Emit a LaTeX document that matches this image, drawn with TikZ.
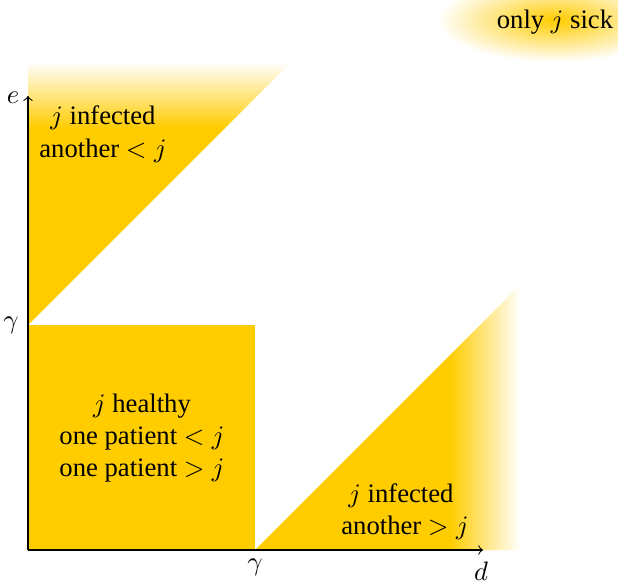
\documentclass[tikz,border=0pt]{standalone}
\usepackage{fontspec}
\setmainfont{Liberation Serif}
\definecolor{yc}{RGB}{255,204,0}
\tikzset{lbl/.style={inner sep=0pt, align=center, font=\normalsize},
  axis/.style={-to, line width=0.4pt, black}}
\begin{document}
\begin{tikzpicture}[x=0.375pt,y=-0.375pt]
\useasboundingbox (0,0) rectangle (618,586);
% only j sick ellipse
\shade[inner color=yc, outer color=white] (555,20) ellipse (118 and 42);
% top-left triangle with fade
\begin{scope}
\clip (28,325) -- (28,62) -- (291,62) -- cycle;
\fill[yc] (28,128) rectangle (291,325);
\shade[top color=white, bottom color=yc] (28,62) rectangle (291,128);
\end{scope}
% square
\fill[yc] (28,325) rectangle (255,550);
% bottom-right triangle with fade
\begin{scope}
\clip (255,550) -- (520,285) -- (520,550) -- cycle;
\fill[yc] (255,285) rectangle (450,550);
\shade[left color=yc, right color=white] (450,285) rectangle (520,550);
\end{scope}
% axes
\coordinate (O) at (28,550);
\coordinate (E) at (28,96);
\coordinate (D) at (483,550);
\draw[axis] (O) -- (E);
\draw[axis] (O) -- (D);
\node[lbl] (el) at (13,98) {$e$};
\node[lbl] (dl) at (481,571) {$d$};
\node[lbl] (g1) at (11,325) {$\gamma$};
\node[lbl] (g2) at (255,567) {$\gamma$};
% texts
\node[lbl] (t1) at (103,118) {$j$ infected};
\node[lbl] (t2) at (103,151) {another $<j$};
\node[lbl] (h1) at (142,406) {$j$ healthy};
\node[lbl] (h2) at (142,438) {one patient $<j$};
\node[lbl] (h3) at (142,470) {one patient $>j$};
\node[lbl] (b1) at (401,496) {$j$ infected};
\node[lbl] (b2) at (405,528) {another $>j$};
\node[lbl] (s1) at (555,22) {only $j$ sick};
\end{tikzpicture}
\end{document}
